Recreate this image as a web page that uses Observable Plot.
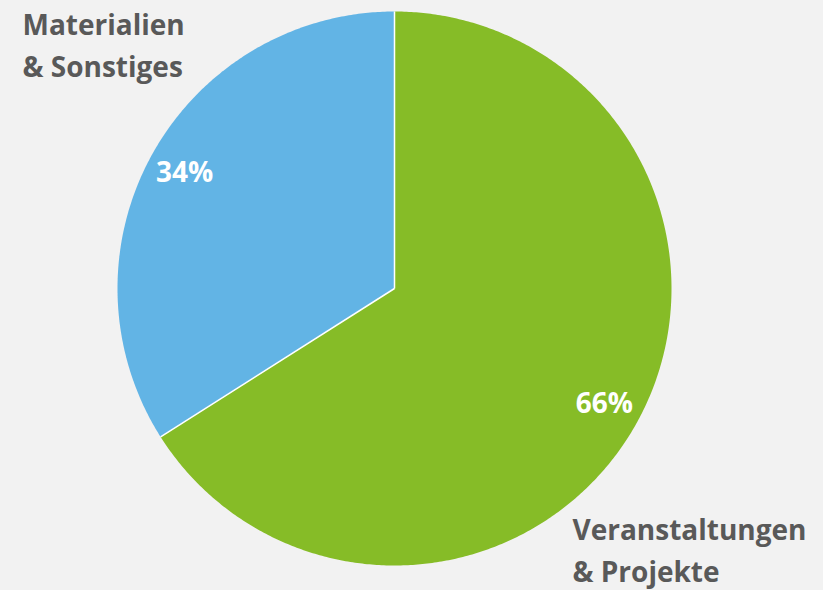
<!DOCTYPE html>
<html><head><meta charset="utf-8">
<script src="https://cdn.jsdelivr.net/npm/d3@7"></script>
<script src="https://cdn.jsdelivr.net/npm/@observablehq/plot@0.6"></script>
<style>
html,body{margin:0;padding:0;background:#f2f2f2;overflow:hidden;}
svg{display:block;}
</style></head><body>
<div id="chart"></div>
<script>
const categories = ["Veranstaltungen & Projekte", "Materialien & Sonstiges"];
const labelLines = [["Veranstaltungen", "& Projekte"], ["Materialien", "& Sonstiges"]];
const values = [66, 34];
const colors = ["#86bc27", "#62b4e5"];

const total = d3.sum(values);
let start = 0;
const slices = values.map((v, i) => {
  const a0 = start / total * 2 * Math.PI;
  start += v;
  const a1 = start / total * 2 * Math.PI;
  return {cat: categories[i], value: v, a0, a1};
});
const pts = [];
for (const s of slices) {
  pts.push({cat: s.cat, x: 0, y: 0});
  const n = Math.max(2, Math.ceil((s.a1 - s.a0) / (Math.PI / 360)));
  for (let k = 0; k <= n; k++) {
    const a = s.a0 + (s.a1 - s.a0) * k / n;
    pts.push({cat: s.cat, x: Math.sin(a), y: Math.cos(a)});
  }
  pts.push({cat: s.cat, x: 0, y: 0});
}
const seps = slices.map(s => ({x: Math.sin(s.a0), y: Math.cos(s.a0)}));
const pct = slices.map(s => {
  const m = (s.a0 + s.a1) / 2;
  return {x: 0.865 * Math.sin(m), y: 0.865 * Math.cos(m), t: s.value + "%"};
});

const font = "'Open Sans', sans-serif";
const chart = Plot.plot({
  width: 823, height: 590,
  margin: 0,
  style: {background: "#f2f2f2", fontFamily: font},
  x: {domain: [-1, 1], range: [117, 671], axis: null},
  y: {domain: [-1, 1], range: [565, 11], axis: null},
  color: {domain: categories, range: colors},
  marks: [
    Plot.line(pts, {x: "x", y: "y", z: "cat", fill: "cat", stroke: null, curve: "linear"}),
    Plot.link(seps, {x1: 0, y1: 0, x2: "x", y2: "y", stroke: "white", strokeWidth: 1.5}),
    Plot.text(pct, {x: "x", y: "y", text: "t", fill: "white", fontSize: 28, fontWeight: 700}),
    Plot.text([labelLines[1].join("\n")], {frameAnchor: "top-left", dx: 22, dy: 5, textAnchor: "start", lineAnchor: "top", lineHeight: 1.5, fill: "#595959", fontSize: 28, fontWeight: 700}),
    Plot.text([labelLines[0].join("\n")], {frameAnchor: "top-left", dx: 572, dy: 510, textAnchor: "start", lineAnchor: "top", lineHeight: 1.5, fill: "#595959", fontSize: 28, fontWeight: 700})
  ]
});
document.getElementById("chart").appendChild(chart);
</script>
</body></html>
